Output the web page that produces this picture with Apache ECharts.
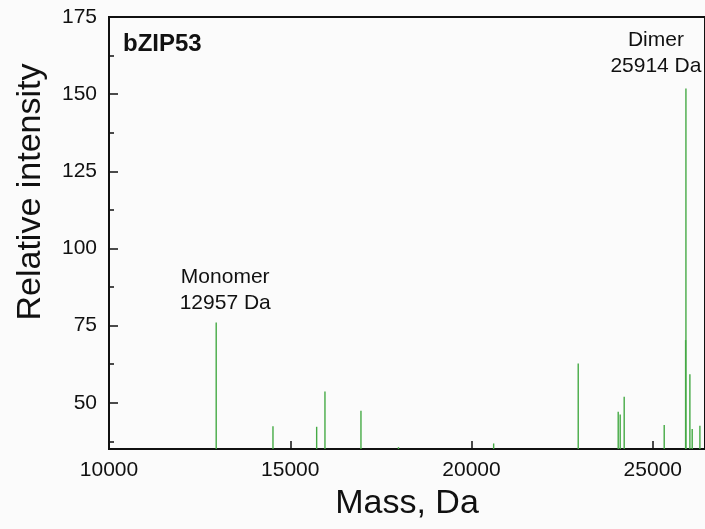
<!DOCTYPE html>
<html>
<head>
<meta charset="utf-8">
<script src="https://cdn.jsdelivr.net/npm/echarts@6/dist/echarts.min.js"></script>
<style>
  html, body { margin: 0; padding: 0; background: #fbfbfb; overflow: hidden; }
  #chart { width: 712px; height: 529px; }
</style>
</head>
<body>
<div id="chart"></div>
<script>
// Deconvoluted mass spectrum of bZIP53: peak masses (Da) and relative intensities
const peakMass = [12957, 14523, 15728, 15957, 16950, 17985, 20610, 22943, 24046, 24101, 24211, 25315, 25905, 25914, 26023, 26087, 26299];
const peakIntensity = [76, 42.4, 42.2, 53.6, 47.4, 35.6, 36.8, 62.7, 47.1, 46.2, 51.9, 42.8, 70.3, 151.8, 59.2, 41.5, 42.5];

// Annotated peaks: species name for a given mass
const annotatedMass = [12957, 25914];
const annotatedName = ['Monomer', 'Dimer'];

// Axis ticks
const xTicks = [10000, 15000, 20000, 25000];
const yTicks = [50, 75, 100, 125, 150, 175];
const yMinorTicks = [37.5, 62.5, 87.5, 112.5, 137.5, 162.5];

const FONT = 'Liberation Sans, Arial, Helvetica, sans-serif';
const labelOffsets = { 12957: [9, 6], 25914: [-30, 3] };

const seriesData = peakMass.map((m, i) => {
  const item = { value: [m, peakIntensity[i]] };
  const k = annotatedMass.indexOf(m);
  if (k >= 0) {
    item.label = {
      show: true,
      position: 'top',
      distance: 12,
      offset: labelOffsets[m],
      formatter: annotatedName[k] + '\n' + m + ' Da',
      fontFamily: FONT,
      fontSize: 21,
      lineHeight: 26,
      color: '#111',
      align: 'center'
    };
  }
  return item;
});

const chart = echarts.init(document.getElementById('chart'), null, { renderer: 'canvas' });

chart.setOption({
  backgroundColor: '#fbfbfb',
  animation: false,
  grid: {
    left: 109, top: 17, width: 596, height: 432,
    show: true, borderColor: '#111', borderWidth: 2, backgroundColor: 'transparent'
  },
  xAxis: {
    type: 'value',
    min: 10000, max: 26440, interval: 5000,
    axisLine: { show: true, lineStyle: { color: '#111', width: 2 } },
    axisTick: { show: true, inside: true, length: 8, lineStyle: { color: '#111', width: 1.5 },
                customValues: xTicks },
    axisLabel: { fontFamily: FONT, fontSize: 21, color: '#111', margin: 11, customValues: xTicks,
                 formatter: v => String(v) },
    splitLine: { show: false },
    name: 'Mass, Da',
    nameLocation: 'middle',
    nameGap: 38,
    nameTextStyle: { fontFamily: FONT, fontSize: 34, color: '#111' }
  },
  yAxis: [
    {
      type: 'value',
      min: 35, max: 175,
      axisLine: { show: true, lineStyle: { color: '#111', width: 2 } },
      axisTick: { show: true, inside: true, length: 9, lineStyle: { color: '#111', width: 1.5 },
                  customValues: yTicks },
      axisLabel: { fontFamily: FONT, fontSize: 21, color: '#111', margin: 12, customValues: yTicks },
      splitLine: { show: false }
    },
    {
      // minor ticks on the left axis
      type: 'value',
      min: 35, max: 175,
      position: 'left',
      axisLine: { show: false },
      axisTick: { show: true, inside: true, length: 5, lineStyle: { color: '#111', width: 1.5 },
                  customValues: yMinorTicks },
      axisLabel: { show: false },
      splitLine: { show: false }
    }
  ],
  graphic: [
    {
      type: 'text',
      x: 31, y: 192,
      rotation: Math.PI / 2,
      style: {
        text: 'Relative intensity',
        font: '34px ' + FONT,
        fill: '#111',
        align: 'center',
        verticalAlign: 'middle'
      }
    },
    {
      type: 'text',
      left: 123, top: 32,
      style: {
        text: 'bZIP53',
        font: 'bold 24px ' + FONT,
        fill: '#111'
      }
    }
  ],
  series: [
    {
      type: 'bar',
      xAxisIndex: 0,
      yAxisIndex: 0,
      barWidth: 1.4,
      itemStyle: { color: '#45aa45' },
      clip: true,
      data: seriesData
    }
  ]
});
</script>
</body>
</html>
